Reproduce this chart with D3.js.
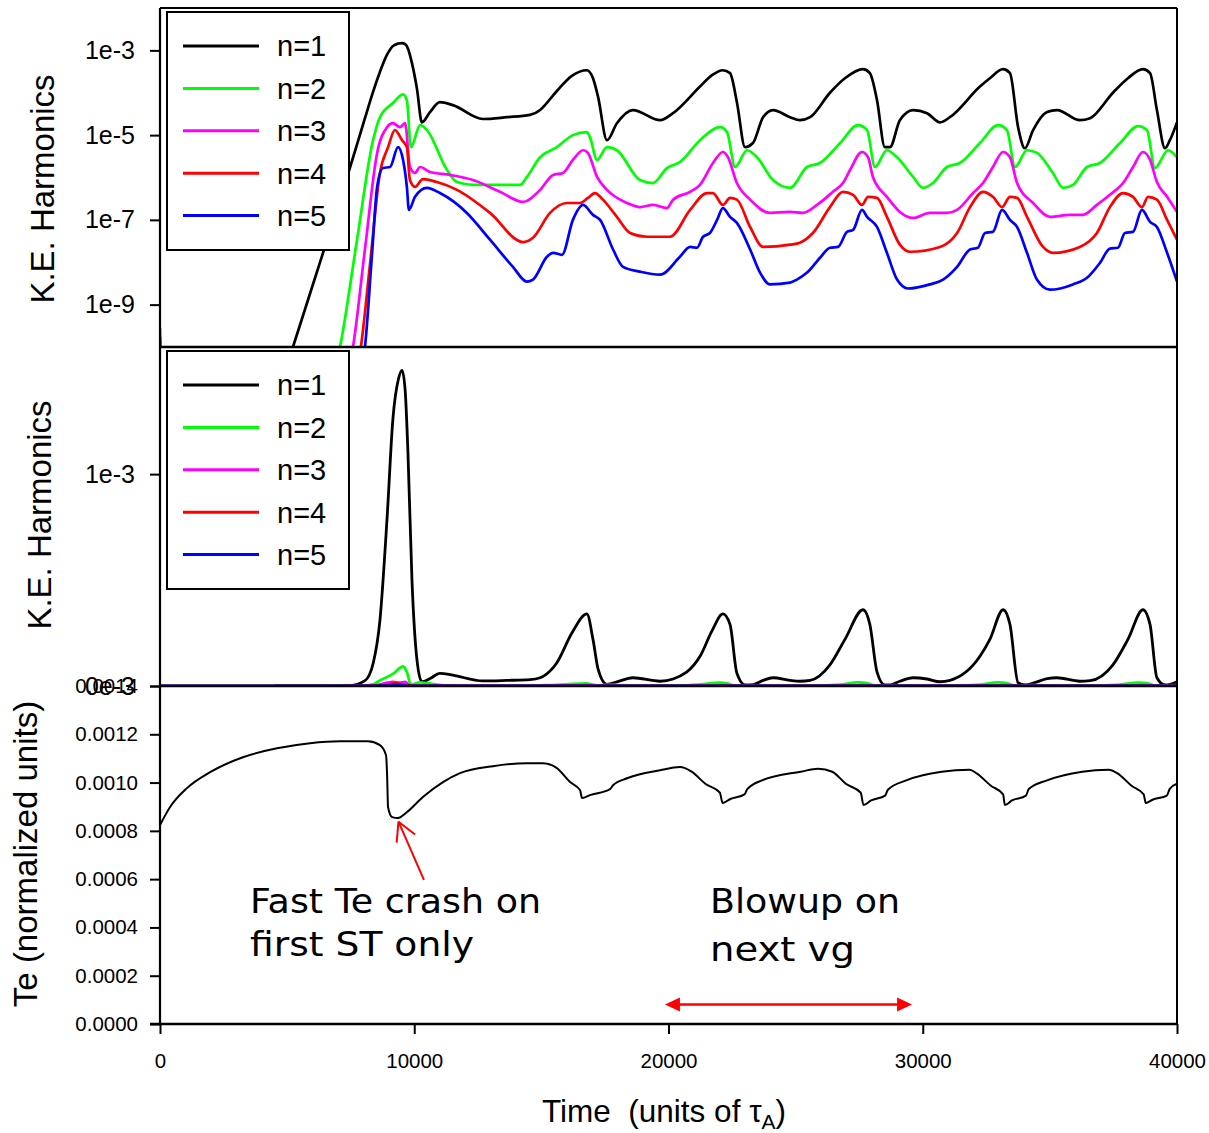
<!DOCTYPE html>
<html>
<head>
<meta charset="utf-8">
<script src="https://cdn.jsdelivr.net/npm/d3@7"></script>
<style>
  body { margin: 0; background: #fff; }
  svg { display: block; font-family: "Liberation Sans", Arial, sans-serif; }
  .note { font-family: "Comic Sans MS", "DejaVu Sans", sans-serif; }
</style>
</head>
<body>
<svg id="chart" width="1209" height="1133"></svg>
<script>
// ---- axis ticks and labels ----
const timeTicks = [0, 10000, 20000, 30000, 40000];
const keLogTicks = [1e-3, 1e-5, 1e-7, 1e-9];
const keLinTicks = [0, 1e-3];
const keLinTickLabels = ["0e-3", "1e-3"];
const teTicks = [0, 0.0002, 0.0004, 0.0006, 0.0008, 0.0010, 0.0012, 0.0014];
const harmonicNames = ["n=1", "n=2", "n=3", "n=4", "n=5"];
const harmonicColors = ["#000000", "#00ff00", "#ff00ff", "#ff0000", "#0000ff"];

// ---- kinetic energy of toroidal harmonics: [time, K.E.] ----
const keN1 = [[4500,4e-12],[5230,1e-10],[6290,9.8e-9],[7470,1.7e-6],[8060,2.5e-5],[8380,1.05e-4],[8650,3.1e-4],[8930,7.9e-4],[9160,1.26e-3],[9380,1.45e-3],[9520,1.49e-3],[9640,1.4e-3],[9750,1.11e-3],[9910,5e-4],[10110,1.2e-4],[10300,2e-5],[10620,3.5e-5],[11010,6e-5],[11520,5.1e-5],[12700,2.4e-5],[13650,2.65e-5],[14550,3e-5],[14950,3.9e-5],[15100,4.8e-5],[15610,1.1e-4],[16200,2.5e-4],[16790,3.4e-4],[17030,2.2e-4],[17230,8e-5],[17580,7.6e-6],[17970,1.9e-5],[18600,3.9e-5],[19670,2.25e-5],[20180,3.3e-5],[21240,1.4e-4],[21710,2.6e-4],[22140,3.4e-4],[22420,2.9e-4],[22690,6e-5],[23010,5.2e-6],[23320,6.5e-6],[23720,2.65e-5],[24110,3.9e-5],[24780,2.65e-5],[25170,2.25e-5],[25570,2.65e-5],[26350,1e-4],[26940,2.2e-4],[27650,3.6e-4],[27920,2.9e-4],[28200,6.7e-5],[28510,5.2e-6],[28710,5.2e-6],[29100,2.25e-5],[29620,3.9e-5],[30170,3.3e-5],[30680,2e-5],[31070,2.65e-5],[32250,1.4e-4],[32640,2.2e-4],[33160,3.6e-4],[33430,2.9e-4],[33750,1.54e-5],[34020,4.9e-6],[34340,1.31e-5],[34890,3.5e-5],[35280,3.9e-5],[36180,2.25e-5],[36580,2.5e-5],[37480,1e-4],[38070,2.2e-4],[38660,3.6e-4],[38940,2.9e-4],[39210,3.9e-5],[39530,4.9e-6],[39720,7.6e-6],[40000,2e-5]];

const keN2 = [[6690,1e-11],[7080,1e-10],[7750,3.4e-8],[8380,7.6e-6],[8650,2.65e-5],[9160,5.7e-5],[9560,9.2e-5],[9710,6.6e-5],[9870,5.2e-6],[10230,1.72e-5],[10500,1.31e-5],[11290,1.5e-6],[11680,7.8e-7],[12310,6.7e-7],[14160,6.7e-7],[14430,1.03e-6],[14950,3.0e-6],[15610,5.2e-6],[16240,1e-5],[16790,1.18e-5],[16910,9e-6],[17190,2.6e-6],[17580,5.2e-6],[17970,4.4e-6],[18880,8.7e-7],[19390,7.4e-7],[19940,1.67e-6],[20450,2.3e-6],[21240,7.6e-6],[22030,1.54e-5],[22300,1.18e-5],[22620,1.77e-6],[23090,4.4e-6],[23480,3.0e-6],[24110,8.7e-7],[24780,5.7e-7],[25450,1.77e-6],[25960,2.2e-6],[26750,6.5e-6],[27450,1.72e-5],[27810,1.31e-5],[28120,1.77e-6],[28590,4.4e-6],[28990,3.0e-6],[29620,1.03e-6],[30010,5.7e-7],[30400,7.4e-7],[30950,1.77e-6],[31460,2.2e-6],[32250,6.5e-6],[32960,1.72e-5],[33310,1.31e-5],[33630,1.77e-6],[34100,4.4e-6],[34490,3.8e-6],[35120,1.28e-6],[35520,5.7e-7],[35910,6.7e-7],[36460,1.77e-6],[36970,2.2e-6],[37760,6.5e-6],[38470,1.63e-5],[38820,1.31e-5],[39130,1.67e-6],[39650,4.4e-6],[40000,3.0e-6]];

const keN3 = [[7200,1e-11],[7590,1e-10],[8060,2e-8],[8540,3.8e-6],[8930,1.54e-5],[9160,1.92e-5],[9440,1.54e-5],[9640,1.92e-5],[9830,1.77e-6],[10030,1.28e-6],[10230,1.77e-6],[10620,1.35e-6],[11410,1.15e-6],[12310,8.7e-7],[13370,4.6e-7],[14280,2.65e-7],[14950,5.1e-7],[15460,1.15e-6],[15850,1.28e-6],[16240,2.6e-6],[16640,4.4e-6],[16830,3.8e-6],[17190,1.03e-6],[17580,5.1e-7],[18370,2.5e-7],[18880,2.0e-7],[19390,2.25e-7],[19940,1.9e-7],[20180,3.0e-7],[20850,4.6e-7],[21240,6.7e-7],[21750,2.2e-6],[22140,4e-6],[22340,3e-6],[22690,7.4e-7],[23210,3e-7],[23990,1.46e-7],[24780,1.54e-7],[25290,1.46e-7],[25840,2.25e-7],[26470,4.6e-7],[26860,7.4e-7],[27140,1.5e-6],[27610,4e-6],[27850,3e-6],[28040,1.03e-6],[28590,3.5e-7],[29100,1.54e-7],[29620,1.11e-7],[30280,1.46e-7],[30950,1.46e-7],[31350,1.72e-7],[31980,4.3e-7],[32370,7.4e-7],[32760,1.77e-6],[33160,4e-6],[33430,3e-6],[33710,7.4e-7],[34340,2.5e-7],[35000,1.18e-7],[35790,1.31e-7],[36300,1.31e-7],[36850,2.25e-7],[37360,3.9e-7],[37880,7.4e-7],[38270,1.77e-6],[38660,4e-6],[38940,2.6e-6],[39210,7.8e-7],[39610,3.5e-7],[40000,1.54e-7]];

const keN4 = [[0,2.8e-10],[60,1e-11],[7550,1e-11],[7900,1e-10],[8260,9e-9],[8650,1.28e-6],[8970,5.2e-6],[9240,1.31e-5],[9520,7.6e-6],[9710,5.2e-6],[9830,8.7e-7],[10030,6e-7],[10340,9.2e-7],[10890,7.8e-7],[11680,5.1e-7],[12980,1.46e-7],[14280,3.0e-8],[14670,3.8e-8],[15340,1.46e-7],[16010,2.5e-7],[16520,2.5e-7],[16830,3.3e-7],[17110,4.3e-7],[17420,3.0e-7],[17970,1.18e-7],[18490,4.9e-8],[19150,4e-8],[20060,4e-8],[20850,1.72e-7],[21510,4.3e-7],[21750,4.3e-7],[22140,2.25e-7],[22420,3.3e-7],[22690,3.0e-7],[23210,6.8e-8],[23720,2.3e-8],[24780,2.6e-8],[25170,2.9e-8],[25680,4.9e-8],[26350,2e-7],[26860,4.6e-7],[27260,3.9e-7],[27610,2.25e-7],[27850,3.5e-7],[28200,3.3e-7],[28590,1.18e-7],[29100,2.6e-8],[29500,1.77e-8],[30680,2.3e-8],[31350,4.9e-8],[31860,2e-7],[32370,4.6e-7],[32760,3.5e-7],[33120,2e-7],[33430,3.5e-7],[33710,3.3e-7],[34100,1.18e-7],[34730,2.3e-8],[35120,1.67e-8],[36180,2.3e-8],[36850,4.9e-8],[37360,2e-7],[37880,4.3e-7],[38270,3.5e-7],[38620,2e-7],[38860,3.5e-7],[39210,3e-7],[39610,1e-7],[40000,3.4e-8]];

const keN5 = [[0,1.7e-10],[60,1e-12],[7670,1e-11],[8060,1e-10],[8340,1.6e-8],[8540,6e-7],[8770,1.67e-6],[9050,1.77e-6],[9360,5.2e-6],[9560,2.6e-6],[9710,6e-7],[9790,1.72e-7],[10030,3.5e-7],[10500,5.7e-7],[11010,4.3e-7],[12070,1.46e-7],[12980,3.4e-8],[13880,7.8e-9],[14430,3.5e-9],[14670,3.9e-9],[15220,1.35e-8],[15460,1.67e-8],[15810,1.5e-8],[16240,1e-7],[16640,2.25e-7],[17030,1.31e-7],[17310,1e-7],[17820,2e-8],[18210,7.8e-9],[18880,6e-9],[19670,5.1e-9],[20450,1.35e-8],[20850,2.3e-8],[21120,2.2e-8],[21360,4e-8],[21630,4.9e-8],[21910,1e-7],[22140,1.9e-7],[22420,1.18e-7],[22690,8.5e-8],[23210,2e-8],[23600,5.7e-9],[23990,3e-9],[24780,3.3e-9],[25050,3.9e-9],[25450,5.7e-9],[25960,1.28e-8],[26350,2.2e-8],[26670,2.3e-8],[27020,5.2e-8],[27260,5.8e-8],[27610,1.72e-7],[27810,1.18e-7],[28200,6.8e-8],[28590,1.67e-8],[28990,3.9e-9],[29420,2.4e-9],[30280,3e-9],[30800,3.9e-9],[31350,7.8e-9],[31860,2e-8],[32170,2.2e-8],[32450,4.9e-8],[32760,5.2e-8],[33120,1.72e-7],[33430,1e-7],[33710,6.8e-8],[34100,1.67e-8],[34490,3.9e-9],[35000,2.25e-9],[35910,3e-9],[36460,4.3e-9],[36970,9.7e-9],[37360,2.1e-8],[37680,2.2e-8],[37950,4.9e-8],[38270,5.2e-8],[38620,1.72e-7],[38940,9e-8],[39210,6.8e-8],[39610,1.67e-8],[40000,3.5e-9]];

// ---- electron temperature: [time, Te] ----
const teSeries = [[0,8.24e-4],[390,8.98e-4],[1060,9.77e-4],[1970,1.043e-3],[3260,1.105e-3],[4600,1.142e-3],[5900,1.163e-3],[7080,1.171e-3],[8180,1.171e-3],[8650,1.155e-3],[8890,1.113e-3],[8930,1.039e-3],[8970,8.98e-4],[9130,8.57e-4],[9360,8.53e-4],[9720,8.78e-4],[10340,9.4e-4],[11130,1.002e-3],[11800,1.039e-3],[13100,1.068e-3],[14430,1.080e-3],[15060,1.080e-3],[15610,1.06e-3],[16130,1.002e-3],[16520,9.69e-4],[16600,9.36e-4],[16910,9.48e-4],[17700,9.73e-4],[17820,9.89e-4],[18370,1.018e-3],[19670,1.051e-3],[20450,1.064e-3],[20910,1.045e-3],[21460,9.94e-4],[22020,9.58e-4],[22130,9.15e-4],[22430,9.32e-4],[22990,9.51e-4],[23100,9.73e-4],[23680,1.009e-3],[25200,1.045e-3],[25890,1.057e-3],[26440,1.045e-3],[26990,9.94e-4],[27560,9.58e-4],[27670,9.07e-4],[27970,9.26e-4],[28520,9.46e-4],[28630,9.7e-4],[29350,1.009e-3],[30740,1.045e-3],[31840,1.053e-3],[32120,1.038e-3],[32680,9.87e-4],[33160,9.51e-4],[33230,9.07e-4],[33510,9.26e-4],[34060,9.46e-4],[34170,9.73e-4],[34890,1.009e-3],[36270,1.045e-3],[37310,1.053e-3],[37660,1.038e-3],[38210,9.87e-4],[38690,9.51e-4],[38770,9.15e-4],[39040,9.29e-4],[39600,9.46e-4],[39710,9.73e-4],[40000,9.95e-4]];

// ---- annotations (data coordinates) ----
const crashArrow = { tail: [10380, 0.000597], tip: [9380, 0.000838] };
const crashText = ["Fast Te crash on", "first ST only"];
const blowupText = ["Blowup on", "next vg"];
const blowupSpan = [19860, 29580];

// ---- layout ----
const X0 = 160, X1 = 1177;
const TOP = [8, 347], MID = [347, 686], BOT = [686, 1024];

const x = d3.scaleLinear().domain([0, 40000]).range([X0, X1]);
const yLog = d3.scaleLog().domain([1e-10, 1e-2]).range([TOP[1], TOP[0]]);
const yLin = d3.scaleLinear().domain([0, 1.6e-3]).range([MID[1], MID[0]]);
const yTe = d3.scaleLinear().domain([0, 0.0014]).range([BOT[1], BOT[0]]);

const svg = d3.select("#chart");
const defs = svg.append("defs");
[["clipTop", TOP], ["clipMid", MID], ["clipBot", BOT]].forEach(([id, r]) => {
  defs.append("clipPath").attr("id", id)
    .append("rect").attr("x", X0).attr("y", r[0]).attr("width", X1 - X0).attr("height", r[1] - r[0]);
});

const harmonics = [keN1, keN2, keN3, keN4, keN5];

// top panel: log scale
const lineLog = d3.line().x(d => x(d[0])).y(d => yLog(d[1])).curve(d3.curveMonotoneX);
svg.append("g").attr("clip-path", "url(#clipTop)")
  .selectAll("path").data(harmonics).join("path")
  .attr("d", lineLog).attr("fill", "none")
  .attr("stroke", (d, i) => harmonicColors[i]).attr("stroke-width", 2.7)
  .attr("stroke-linejoin", "round");

// middle panel: linear scale
const lineLin = d3.line().x(d => x(d[0])).y(d => yLin(d[1])).curve(d3.curveMonotoneX);
svg.append("g").attr("clip-path", "url(#clipMid)")
  .selectAll("path").data(harmonics).join("path")
  .attr("d", lineLin).attr("fill", "none")
  .attr("stroke", (d, i) => harmonicColors[i]).attr("stroke-width", 2.8)
  .attr("stroke-linejoin", "round");

// bottom panel: Te
const lineTe = d3.line().x(d => x(d[0])).y(d => yTe(d[1])).curve(d3.curveMonotoneX);
svg.append("g").attr("clip-path", "url(#clipBot)")
  .append("path").datum(teSeries)
  .attr("d", lineTe).attr("fill", "none")
  .attr("stroke", "#000").attr("stroke-width", 2);

// frame and panel separators
const frame = svg.append("g").attr("stroke", "#000").attr("fill", "none");
frame.append("line").attr("x1", X0).attr("x2", X1).attr("y1", TOP[0]).attr("y2", TOP[0]).attr("stroke-width", 2);
frame.append("line").attr("x1", X1).attr("x2", X1).attr("y1", TOP[0]).attr("y2", BOT[1]).attr("stroke-width", 2);
frame.append("line").attr("x1", X0).attr("x2", X0).attr("y1", TOP[0]).attr("y2", BOT[1]).attr("stroke-width", 2.2);
frame.append("line").attr("x1", X0).attr("x2", X1).attr("y1", TOP[1]).attr("y2", TOP[1]).attr("stroke-width", 2.6);
frame.append("line").attr("x1", X0).attr("x2", X1).attr("y1", MID[1]).attr("y2", MID[1]).attr("stroke-width", 2.6);
frame.append("line").attr("x1", X0 - 10).attr("x2", X1).attr("y1", BOT[1]).attr("y2", BOT[1]).attr("stroke-width", 2.4);

// legends
function legend(top) {
  const g = svg.append("g");
  g.append("rect").attr("x", 167).attr("y", top).attr("width", 182).attr("height", 238)
    .attr("fill", "#fff").attr("stroke", "#000").attr("stroke-width", 2);
  harmonicNames.forEach((name, i) => {
    const cy = top + 34 + i * 42.4;
    g.append("line").attr("x1", 183).attr("x2", 259).attr("y1", cy).attr("y2", cy)
      .attr("stroke", harmonicColors[i]).attr("stroke-width", 3);
    g.append("text").attr("x", 277).attr("y", cy).attr("dy", "0.36em")
      .attr("font-size", 29).attr("fill", "#000").text(name);
  });
}
legend(12);
legend(351);

// axes
function styleAxis(g, size) {
  g.select(".domain").remove();
  g.selectAll(".tick line").attr("stroke", "#000").attr("stroke-width", 2);
  g.selectAll(".tick text").attr("font-size", size).attr("fill", "#000")
    .attr("font-family", "'Liberation Sans', Arial, sans-serif");
}
svg.append("g").attr("transform", `translate(${X0},0)`)
  .call(d3.axisLeft(yLog).tickValues(keLogTicks).tickSize(10).tickPadding(15).tickSizeOuter(0)
    .tickFormat(d => d.toExponential(0).replace("+", "")))
  .call(g => styleAxis(g, 25));
svg.append("g").attr("transform", `translate(${X0},0)`)
  .call(d3.axisLeft(yLin).tickValues(keLinTicks).tickSize(10).tickPadding(15).tickSizeOuter(0)
    .tickFormat((d, i) => keLinTickLabels[i]))
  .call(g => styleAxis(g, 25));
svg.append("g").attr("transform", `translate(${X0},0)`)
  .call(d3.axisLeft(yTe).tickValues(teTicks).tickSize(10).tickPadding(12).tickSizeOuter(0)
    .tickFormat(d3.format(".4f")))
  .call(g => styleAxis(g, 20.5));
svg.append("g").attr("transform", `translate(0,${BOT[1]})`)
  .call(d3.axisBottom(x).tickValues(timeTicks).tickSize(10).tickPadding(19).tickSizeOuter(0)
    .tickFormat(d3.format("d")))
  .call(g => styleAxis(g, 20.5));

// axis titles
function vTitle(txt, bx, cy) {
  svg.append("text").attr("transform", `translate(${bx},${cy}) rotate(-90)`)
    .attr("text-anchor", "middle").attr("font-size", 33).attr("fill", "#000").text(txt);
}
vTitle("K.E. Harmonics", 54, 189);
vTitle("K.E. Harmonics", 51, 515);
vTitle("Te (normalized units)", 37, 854);

// time axis title with subscript A, built from three pieces laid end to end
const xtMain = svg.append("text").attr("x", 542).attr("y", 1122)
  .attr("font-size", 31.5).attr("fill", "#000").style("white-space", "pre")
  .text("Time  (units of \u03C4");
const mainW = xtMain.node().getComputedTextLength();
const xtSub = svg.append("text").attr("x", 542 + mainW).attr("y", 1129)
  .attr("font-size", 21).attr("fill", "#000").text("A");
const subW = xtSub.node().getComputedTextLength();
svg.append("text").attr("x", 542 + mainW + subW).attr("y", 1122)
  .attr("font-size", 31.5).attr("fill", "#000").text(")");

// crash annotation arrow
const red = "#ff0000";
const tipP = [x(crashArrow.tip[0]), yTe(crashArrow.tip[1])];
const tailP = [x(crashArrow.tail[0]), yTe(crashArrow.tail[1])];
svg.append("line").attr("x1", tailP[0]).attr("y1", tailP[1]).attr("x2", tipP[0]).attr("y2", tipP[1])
  .attr("stroke", red).attr("stroke-width", 2);
const ang = Math.atan2(tailP[1] - tipP[1], tailP[0] - tipP[0]);
[-0.5, 0.5].forEach(da => {
  svg.append("line").attr("x1", tipP[0]).attr("y1", tipP[1])
    .attr("x2", tipP[0] + 21 * Math.cos(ang + da)).attr("y2", tipP[1] + 21 * Math.sin(ang + da))
    .attr("stroke", red).attr("stroke-width", 2);
});

// annotation text
const note = svg.append("g").attr("class", "note").attr("fill", "#000").attr("font-size", 34);
note.append("text").attr("x", x(3540)).attr("y", 913).attr("textLength", 291).attr("lengthAdjust", "spacingAndGlyphs").text(crashText[0]);
note.append("text").attr("x", x(3540)).attr("y", 956).attr("textLength", 224).attr("lengthAdjust", "spacingAndGlyphs").text(crashText[1]);
note.append("text").attr("x", x(21630)).attr("y", 913).attr("textLength", 190).attr("lengthAdjust", "spacingAndGlyphs").text(blowupText[0]);
note.append("text").attr("x", x(21630)).attr("y", 961).attr("textLength", 145).attr("lengthAdjust", "spacingAndGlyphs").text(blowupText[1]);

// double-headed span arrow
const ya = 1004.5, xa0 = x(blowupSpan[0]), xa1 = x(blowupSpan[1]);
svg.append("line").attr("x1", xa0 + 10).attr("x2", xa1 - 10).attr("y1", ya).attr("y2", ya)
  .attr("stroke", red).attr("stroke-width", 2.5);
svg.append("path").attr("fill", red)
  .attr("d", `M${xa0},${ya} L${xa0 + 15},${ya - 7} L${xa0 + 15},${ya + 7} Z M${xa1},${ya} L${xa1 - 15},${ya - 7} L${xa1 - 15},${ya + 7} Z`);
</script>
</body>
</html>
